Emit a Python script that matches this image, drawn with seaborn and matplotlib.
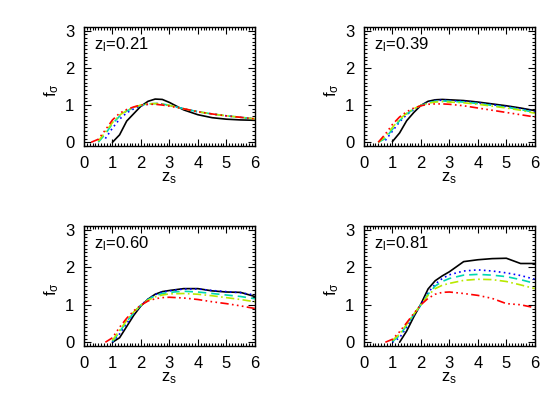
import numpy as np
import pandas as pd
import matplotlib.pyplot as plt
import seaborn as sns
from matplotlib.ticker import MultipleLocator

sns.set_style('white')
plt.rcParams['font.family'] = ['Liberation Sans', 'DejaVu Sans']
plt.rcParams['mathtext.fontset'] = 'custom'
plt.rcParams['mathtext.rm'] = 'Liberation Sans'
plt.rcParams['mathtext.it'] = 'Liberation Sans'
plt.rcParams['text.color'] = 'black'
plt.rcParams['axes.labelcolor'] = 'black'
plt.rcParams['xtick.color'] = 'black'
plt.rcParams['ytick.color'] = 'black'

nan = np.nan

# source redshift grid
zs = [0.25, 0.5, 0.75, 1.0, 1.25, 1.5, 1.75, 2.0, 2.25, 2.5, 2.75, 3.0, 3.5, 4.0, 4.5, 5.0, 5.5, 6.0]

# lens redshifts (one panel each)
zl_labels = ['0.21', '0.39', '0.60', '0.81']

# f_sigma curves, zl = 0.21
black_021 = [nan, nan, nan, 0.0, 0.2, 0.57, 0.77, 0.97, 1.10, 1.16, 1.15, 1.07, 0.87, 0.74, 0.66, 0.62, 0.60, 0.59]
blue_021 = [nan, nan, 0.1, 0.38, 0.62, 0.79, 0.9, 0.98, 1.02, 1.04, 1.03, 0.99, 0.9, 0.82, 0.76, 0.71, 0.67, 0.63]
cyan_021 = [nan, 0.0, 0.22, 0.5, 0.7, 0.84, 0.93, 0.99, 1.03, 1.04, 1.03, 0.99, 0.9, 0.82, 0.76, 0.71, 0.67, 0.63]
yellow_021 = [nan, 0.03, 0.27, 0.53, 0.73, 0.85, 0.94, 1.0, 1.03, 1.04, 1.03, 0.99, 0.9, 0.82, 0.76, 0.71, 0.67, 0.63]
red_021 = [0.0, 0.08, 0.33, 0.6, 0.78, 0.88, 0.95, 1.0, 1.02, 1.02, 1.0, 0.97, 0.9, 0.82, 0.76, 0.71, 0.67, 0.63]

# zl = 0.39
black_039 = [nan, nan, nan, 0.02, 0.25, 0.58, 0.8, 0.99, 1.1, 1.14, 1.15, 1.14, 1.12, 1.08, 1.03, 0.98, 0.92, 0.85]
blue_039 = [nan, nan, 0.05, 0.3, 0.55, 0.74, 0.88, 0.99, 1.07, 1.12, 1.13, 1.12, 1.1, 1.06, 1.01, 0.96, 0.9, 0.83]
cyan_039 = [nan, 0.0, 0.1, 0.35, 0.58, 0.76, 0.89, 0.99, 1.06, 1.1, 1.11, 1.1, 1.08, 1.04, 0.99, 0.94, 0.88, 0.8]
yellow_039 = [nan, 0.0, 0.15, 0.4, 0.62, 0.78, 0.9, 0.99, 1.05, 1.08, 1.09, 1.08, 1.06, 1.02, 0.97, 0.92, 0.86, 0.78]
red_039 = [nan, 0.0, 0.22, 0.48, 0.68, 0.82, 0.92, 0.98, 1.02, 1.03, 1.03, 1.02, 0.98, 0.92, 0.86, 0.8, 0.74, 0.68]

# zl = 0.60
black_060 = [nan, nan, nan, 0.0, 0.12, 0.42, 0.72, 0.97, 1.15, 1.28, 1.35, 1.38, 1.43, 1.43, 1.37, 1.34, 1.33, 1.22]
blue_060 = [nan, nan, nan, 0.0, 0.22, 0.5, 0.77, 0.99, 1.15, 1.27, 1.34, 1.37, 1.42, 1.42, 1.38, 1.35, 1.32, 1.26]
cyan_060 = [nan, nan, nan, 0.02, 0.28, 0.55, 0.79, 0.99, 1.14, 1.24, 1.3, 1.33, 1.36, 1.34, 1.3, 1.26, 1.22, 1.16]
yellow_060 = [nan, nan, nan, 0.05, 0.32, 0.58, 0.81, 0.99, 1.12, 1.21, 1.26, 1.29, 1.3, 1.28, 1.24, 1.19, 1.14, 1.08]
red_060 = [nan, nan, 0.0, 0.12, 0.4, 0.64, 0.84, 0.99, 1.1, 1.16, 1.19, 1.2, 1.18, 1.14, 1.08, 1.03, 0.97, 0.9]

# zl = 0.81
black_081 = [nan, nan, nan, nan, 0.0, 0.3, 0.68, 1.02, 1.42, 1.64, 1.77, 1.88, 2.15, 2.2, 2.23, 2.24, 2.1, 2.1]
blue_081 = [nan, nan, nan, 0.0, 0.12, 0.4, 0.72, 1.0, 1.32, 1.55, 1.7, 1.8, 1.9, 1.93, 1.9, 1.85, 1.78, 1.68]
cyan_081 = [nan, nan, nan, 0.02, 0.18, 0.45, 0.74, 1.0, 1.28, 1.5, 1.62, 1.7, 1.79, 1.81, 1.79, 1.75, 1.67, 1.57]
yellow_081 = [nan, nan, nan, 0.05, 0.22, 0.48, 0.75, 1.0, 1.25, 1.43, 1.52, 1.57, 1.65, 1.68, 1.67, 1.62, 1.53, 1.43]
red_081 = [nan, nan, 0.0, 0.08, 0.28, 0.52, 0.77, 1.0, 1.17, 1.28, 1.33, 1.34, 1.3, 1.25, 1.17, 1.03, 1.0, 0.92]

panels = [
    [black_021, blue_021, cyan_021, yellow_021, red_021],
    [black_039, blue_039, cyan_039, yellow_039, red_039],
    [black_060, blue_060, cyan_060, yellow_060, red_060],
    [black_081, blue_081, cyan_081, yellow_081, red_081],
]

colors = ['black', '#0000ff', '#00d8b0', '#b8e800', '#ff0000']
styles = ['-', (0, (1, 2)), (0, (5, 3)), (0, (5, 2, 1, 2)), (0, (5, 2, 1, 2, 1, 2, 1, 2))]

fig = plt.figure(figsize=(5.6, 4.0), dpi=100)
positions = [
    [0.150, 0.635, 0.305, 0.298],
    [0.650, 0.635, 0.305, 0.298],
    [0.150, 0.135, 0.305, 0.300],
    [0.650, 0.135, 0.305, 0.300],
]

for pos, curves, zl in zip(positions, panels, zl_labels):
    ax = fig.add_axes(pos)
    for vals, c, ls in zip(curves, colors, styles):
        df = pd.DataFrame({'zs': zs, 'f': vals}).dropna()
        sns.lineplot(data=df, x='zs', y='f', ax=ax, color=c, linestyle=ls, linewidth=1.2)
    ax.set_xlim(0, 6)
    ax.set_ylim(-0.1, 3.1)
    ax.xaxis.set_major_locator(MultipleLocator(1))
    ax.xaxis.set_minor_locator(MultipleLocator(0.1))
    ax.yaxis.set_major_locator(MultipleLocator(1))
    ax.yaxis.set_minor_locator(MultipleLocator(0.1))
    ax.tick_params(which='both', direction='in', bottom=True, left=True, top=True, right=True,
                   labelsize=12, width=0.8, color='black')
    ax.tick_params(which='major', length=5, pad=7)
    ax.tick_params(which='minor', length=2)
    for sp in ax.spines.values():
        sp.set_linewidth(1.0)
        sp.set_color('black')
    ax.set_xlabel('z$_\\mathrm{s}$', fontsize=12, va='center')
    ax.set_ylabel('f$_\\sigma$', fontsize=12, va='center')
    ax.xaxis.set_label_coords(0.5, -0.27)
    ax.yaxis.set_label_coords(-0.19, 0.47)
    ax.text(0.35, 2.62, 'z$_\\mathrm{l}$=' + zl, fontsize=12, va='center', ha='left')

fig.savefig('out.png', dpi=100)
